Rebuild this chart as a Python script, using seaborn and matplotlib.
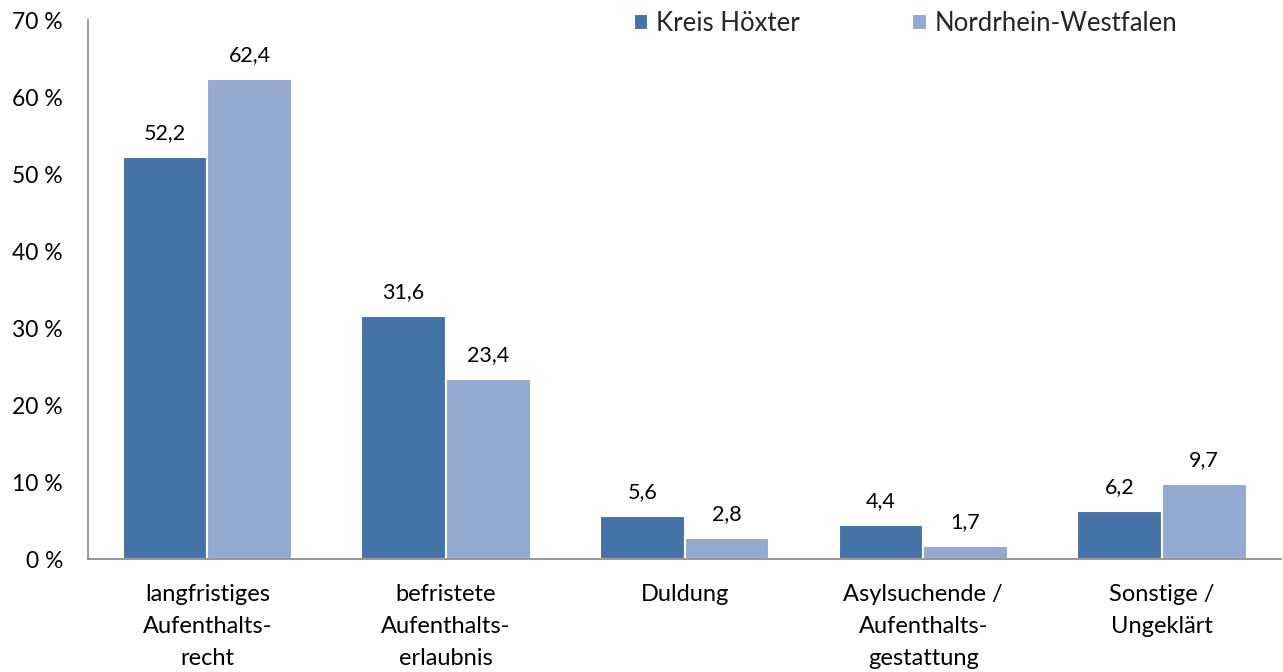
import pandas as pd
import matplotlib.pyplot as plt
import seaborn as sns

# Data
categories = ['langfristiges\nAufenthalts-\nrecht', 'befristete\nAufenthalts-\nerlaubnis',
              'Duldung', 'Asylsuchende /\nAufenthalts-\ngestattung', 'Sonstige /\nUngeklärt']
kreis_hoexter = [52.2, 31.6, 5.6, 4.4, 6.2]
nrw = [62.4, 23.4, 2.8, 1.7, 9.7]
series = ['Kreis Höxter', 'Nordrhein-Westfalen']
y_ticks = [0, 10, 20, 30, 40, 50, 60, 70]

df = pd.DataFrame({
    'Kategorie': categories * 2,
    'Wert': kreis_hoexter + nrw,
    'Gebiet': [series[0]] * len(categories) + [series[1]] * len(categories),
})

sns.set_style('white')
plt.rcParams['font.family'] = ['Lato', 'DejaVu Sans']

fig = plt.figure(figsize=(12.83, 6.72), dpi=100)
ax = fig.add_axes([0.0686, 0.168, 0.930, 0.802])

palette = {series[0]: '#4673A7', series[1]: '#95AAD2'}
sns.barplot(data=df, x='Kategorie', y='Wert', hue='Gebiet', palette=palette,
            width=0.71, edgecolor='white', linewidth=1.5, saturation=1, ax=ax)

for cont in ax.containers:
    ax.bar_label(cont, labels=[f'{v:.1f}'.replace('.', ',') for v in cont.datavalues],
                 padding=10, fontsize=15.5, color='black')

ax.set_xlim(-0.5, len(categories) - 0.5)
ax.set_ylim(0, 70)
ax.set_yticks(y_ticks)
ax.set_yticklabels([f'{t} %' for t in y_ticks], fontsize=16.5, color='black')
ax.set_xlabel('')
ax.set_ylabel('')
for lbl in ax.get_xticklabels():
    lbl.set_fontsize(17)
    lbl.set_linespacing(1.63)
    lbl.set_color('black')
ax.tick_params(axis='x', which='major', length=0, pad=18)
ax.set_xticks([i - 0.5 for i in range(len(categories) + 1)], minor=True)
ax.tick_params(axis='x', which='minor', length=8, color='#868686', width=1.2)
ax.tick_params(axis='y', length=8, color='#868686', width=1.2, pad=10)

for s in ['top', 'right']:
    ax.spines[s].set_visible(False)
for s in ['left', 'bottom']:
    ax.spines[s].set_color('#868686')
    ax.spines[s].set_linewidth(1.2)

ax.get_legend().remove()
fig.legend(*ax.get_legend_handles_labels(), loc='upper left',
           bbox_to_anchor=(0.476, 1.018), ncol=2, frameon=False,
           fontsize=18.5, handlelength=0.55, handleheight=0.55, handletextpad=0.3,
           columnspacing=4.4)

fig.savefig('out.png', dpi=100)
